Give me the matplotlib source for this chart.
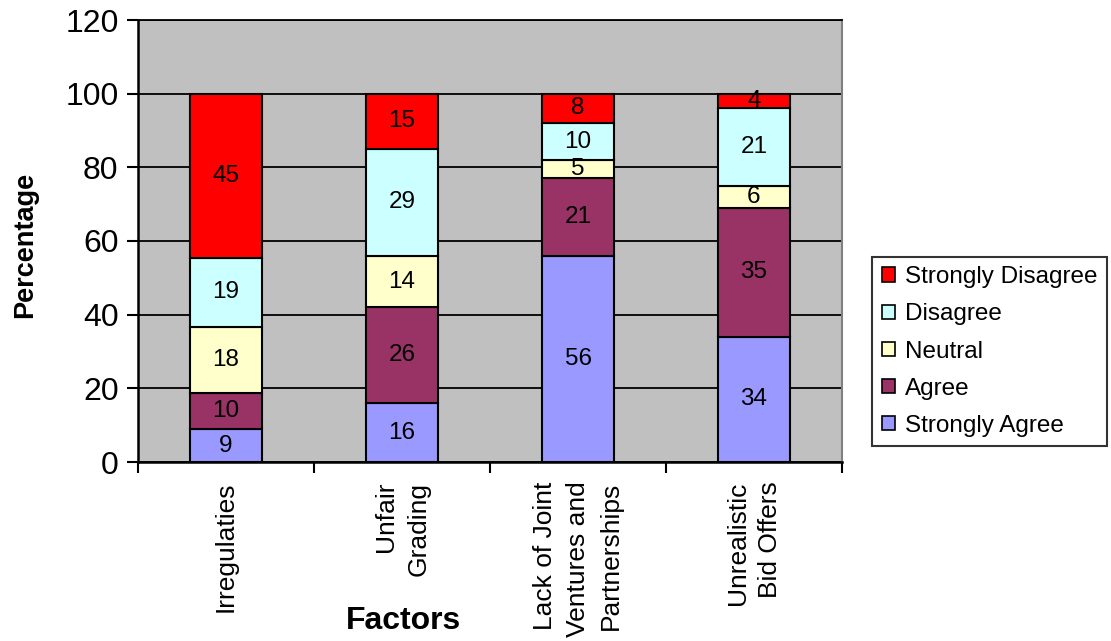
import numpy as np
import matplotlib
matplotlib.use("Agg")
import matplotlib.pyplot as plt
from matplotlib.patches import Patch

plt.rcParams["font.family"] = ["Liberation Sans", "DejaVu Sans"]

factors = ["Irregulaties", "Unfair\nGrading", "Lack of Joint\nVentures and\nPartnerships",
           "Unrealistic\nBid Offers"]
levels = ["Strongly Agree", "Agree", "Neutral", "Disagree", "Strongly Disagree"]
strongly_agree = [9, 16, 56, 34]
agree = [10, 26, 21, 35]
neutral = [18, 14, 5, 6]
disagree = [19, 29, 10, 21]
strongly_disagree = [45, 15, 8, 4]
colours = ["#9999FF", "#993366", "#FFFFCC", "#CCFFFF", "#FF0000"]

series = np.array([strongly_agree, agree, neutral, disagree, strongly_disagree], dtype=float)
# 100% stacked: each column is scaled to its own total
pct = series / series.sum(axis=0) * 100

fig = plt.figure(figsize=(11.11, 6.41), dpi=100)
ax = fig.add_axes([138 / 1111, 1 - 462 / 641, 704 / 1111, 442 / 641])
ax.set_facecolor("#C0C0C0")

x = np.arange(len(factors))
bottom = np.zeros(len(factors))
for i, name in enumerate(levels):
    ax.bar(x, pct[i], 0.41, bottom=bottom, color=colours[i], edgecolor="black",
           linewidth=1.5, label=name, zorder=3)
    for j in range(len(factors)):
        ax.text(x[j], bottom[j] + pct[i][j] / 2, f"{series[i][j]:.0f}", ha="center",
                va="center", fontsize=17.5, zorder=4)
    bottom += pct[i]

ax.set_xlim(-0.5, len(factors) - 0.5)
ax.set_ylim(0, 120)
ax.set_yticks(range(0, 121, 20))
ax.yaxis.grid(True, color="black", lw=1.3, zorder=1)
ax.tick_params(axis="y", labelsize=23, length=8, width=1.5, direction="out", pad=6)

# category ticks sit on the boundaries, labels centred under the bars
ax.set_xticks(np.arange(-0.5, len(factors)), minor=False)
ax.set_xticklabels([])
ax.tick_params(axis="x", length=8, width=1.5, direction="out")
for j, lab in enumerate(factors):
    ax.text(x[j], -5.3, lab, rotation=90, ha="center", va="top", ma="right",
            fontsize=19, linespacing=1.45, transform=ax.transData, clip_on=False)

for side in ("left", "bottom", "top"):
    ax.spines[side].set_color("black")
ax.spines["left"].set_linewidth(1.8)
ax.spines["bottom"].set_linewidth(1.8)
ax.spines["top"].set_linewidth(1.3)
ax.spines["right"].set_color("#808080")
ax.spines["right"].set_linewidth(1.5)

fig.text(25 / 1111, 1 - 245 / 641, "Percentage", rotation=90, ha="center", va="center",
         fontsize=19.5, fontweight="bold")
fig.text(404 / 1111, 1 - 621 / 641, "Factors", ha="center", va="center",
         fontsize=23, fontweight="bold")

handles = [Patch(facecolor=colours[i], edgecolor="black", linewidth=1.2, label=levels[i])
           for i in range(len(levels) - 1, -1, -1)]
leg = fig.legend(handles=handles, loc="center",
                 bbox_to_anchor=(872 / 1111, 1 - 450 / 641, 235 / 1111, 197 / 641),
                 fontsize=17.5, frameon=True, fancybox=False, handlelength=0.55,
                 handleheight=0.55, handletextpad=0.4, labelspacing=0.62,
                 borderpad=0.4, borderaxespad=0)
leg.get_frame().set_edgecolor("black")
leg.get_frame().set_linewidth(1.5)

fig.savefig("out.png", dpi=100)
